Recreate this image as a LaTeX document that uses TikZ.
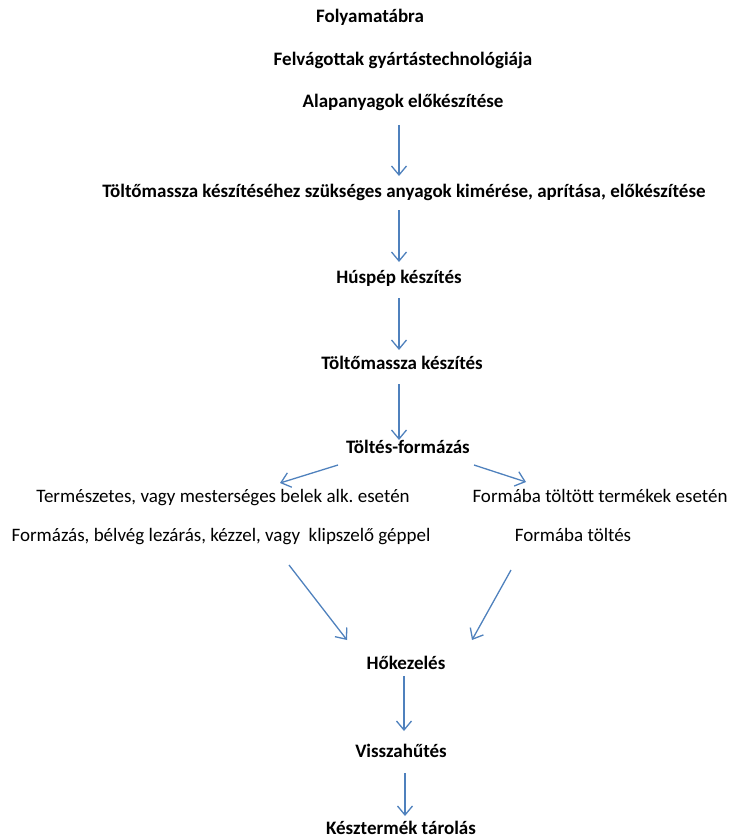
\documentclass[tikz,border=0pt]{standalone}
\usepackage{fontspec}
\setmainfont{Carlito}
\usetikzlibrary{arrows.meta}
\definecolor{flowblue}{HTML}{4F81BD}
\frenchspacing
\begin{document}
\begin{tikzpicture}[x=1pt,y=-1pt,
  every node/.style={inner sep=0pt,anchor=base,font=\fontsize{19}{22}\selectfont},
  title/.style={font=\fontsize{19}{22}\selectfont\bfseries},
  plain/.style={},
  flow/.style={draw=flowblue,line width=1.3pt,-{Straight Barb[length=9pt,width=15pt,line width=1.3pt]}}]
\useasboundingbox (0,0) rectangle (731,840);
% headings and process steps (positions are baselines)
\node[title] (t0) at (370,23) {Folyamatábra};
\node[title] (t1) at (403,66) {Felvágottak gyártástechnológiája};
\node[title] (s1) at (403,108) {Alapanyagok előkészítése};
\node[title] (s2) at (404,197) {Töltőmassza készítéséhez szükséges anyagok kimérése, aprítása, előkészítése};
\node[title] (s3) at (399,283) {Húspép készítés};
\node[title] (s4) at (402,369) {Töltőmassza készítés};
\node[title] (s5) at (408,453) {Töltés-formázás};
\node[plain] (l1) at (223,502) {Természetes, vagy mesterséges belek alk. esetén};
\node[plain] (r1) at (600,502) {Formába töltött termékek esetén};
\node[plain] (l2) at (221,541) {Formázás, bélvég lezárás, kézzel, vagy\ \ klipszelő géppel};
\node[plain] (r2) at (573,541) {Formába töltés};
\node[title] (s6) at (406,669) {Hőkezelés};
\node[title] (s7) at (401,757) {Visszahűtés};
\node[title] (s8) at (401,834) {Késztermék tárolás};
% arrow end points
\coordinate (a1s) at (399,125); \coordinate (a1e) at (399,176);
\coordinate (a2s) at (399,210); \coordinate (a2e) at (399,262);
\coordinate (a3s) at (399,298); \coordinate (a3e) at (399,350);
\coordinate (a4s) at (399,384); \coordinate (a4e) at (399,440);
\coordinate (bls) at (338,465); \coordinate (ble) at (280,483);
\coordinate (brs) at (474,465); \coordinate (bre) at (526,482);
\coordinate (cls) at (289,565); \coordinate (cle) at (347,640);
\coordinate (crs) at (511,570); \coordinate (cre) at (472,640);
\coordinate (a5s) at (404,676); \coordinate (a5e) at (404,731);
\coordinate (a6s) at (405,773); \coordinate (a6e) at (405,816);
% connectors
\draw[flow] (a1s) -- (a1e);
\draw[flow] (a2s) -- (a2e);
\draw[flow] (a3s) -- (a3e);
\draw[flow] (a4s) -- (a4e);
\draw[flow] (bls) -- (ble);
\draw[flow] (brs) -- (bre);
\draw[flow] (cls) -- (cle);
\draw[flow] (crs) -- (cre);
\draw[flow] (a5s) -- (a5e);
\draw[flow] (a6s) -- (a6e);
\end{tikzpicture}
\end{document}
